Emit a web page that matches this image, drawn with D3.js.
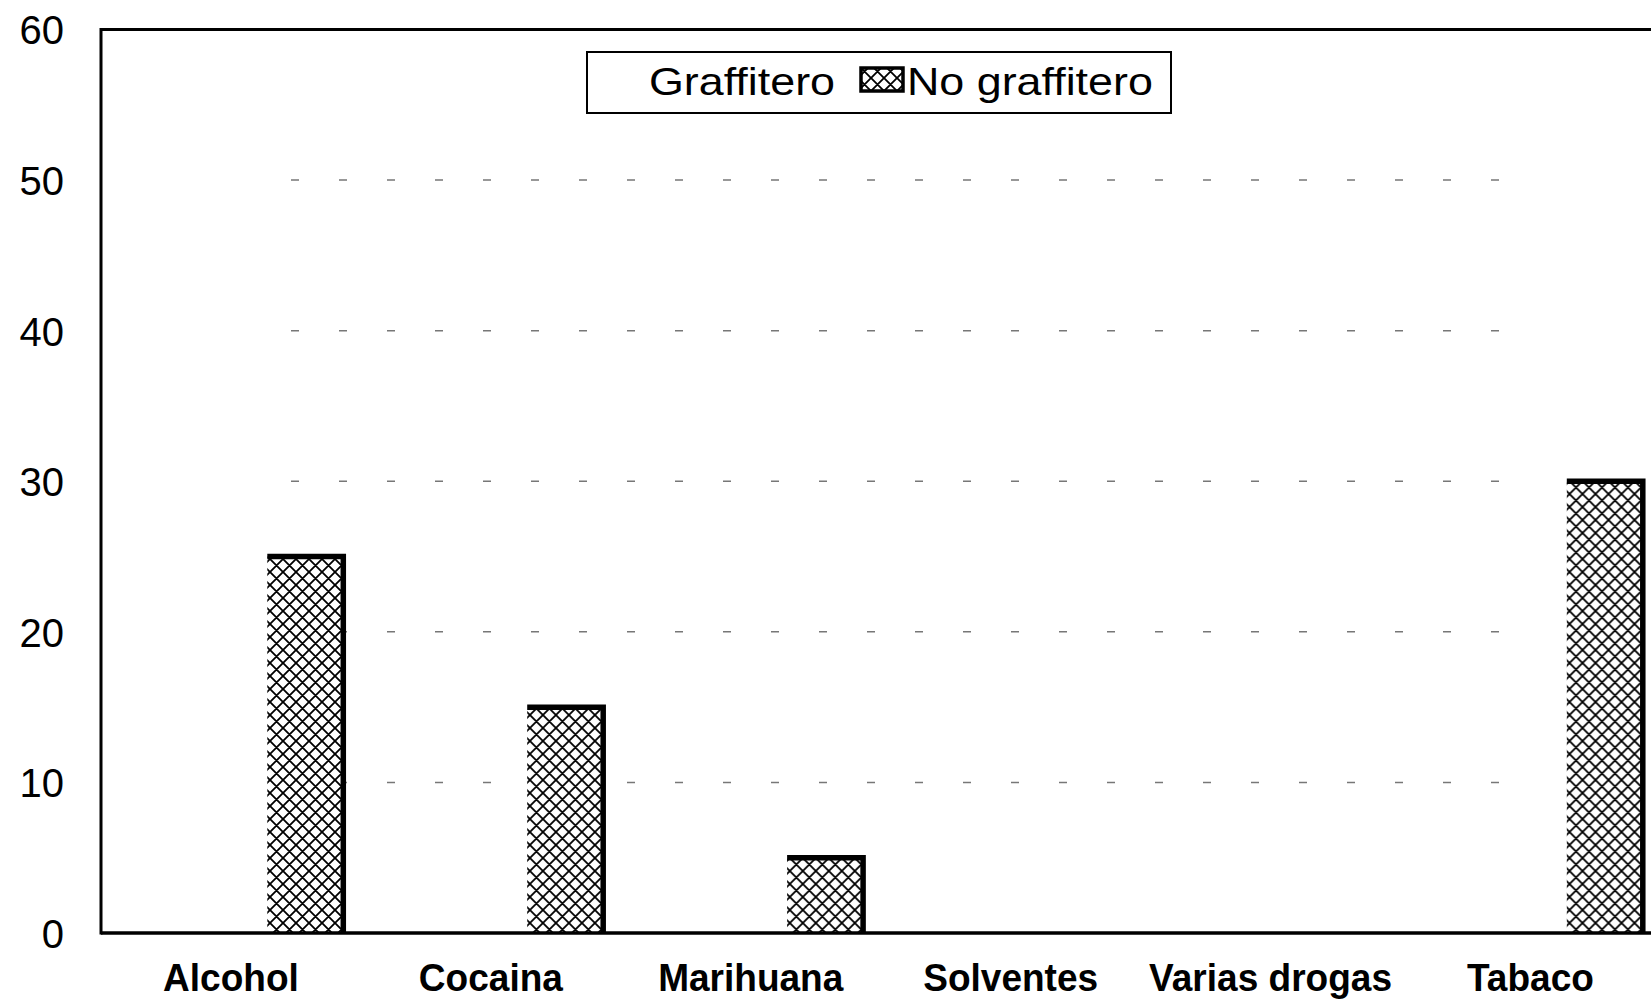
<!DOCTYPE html>
<html>
<head>
<meta charset="utf-8">
<script src="https://cdn.jsdelivr.net/npm/d3@7"></script>
<style>
  html, body { margin: 0; padding: 0; background: #fff; overflow: hidden; }
  svg { display: block; }
  text { font-family: "Liberation Sans", Arial, sans-serif; fill: #000; }
</style>
</head>
<body>
<svg id="chart" width="1651" height="1005"></svg>
<script>
// ---- data ----
const categories = ["Alcohol", "Cocaina", "Marihuana", "Solventes", "Varias drogas", "Tabaco"];
const seriesNames = ["Graffitero", "No graffitero"];
const graffitero = [0, 0, 0, 0, 0, 0];
const noGraffitero = [25, 15, 5, 0, 0, 30];
const yTicks = [0, 10, 20, 30, 40, 50, 60];

const seriesValues = { "Graffitero": graffitero, "No graffitero": noGraffitero };

// ---- layout ----
const W = 1651, H = 1005;
const plotLeft = 101, plotTop = 29.5, plotBottom = 933;
const bandW = 259.9;
const plotRight = plotLeft + bandW * categories.length;

const svg = d3.select("#chart");

// hatch pattern
const P = 13;
const defs = svg.append("defs");
const pat = defs.append("pattern")
  .attr("id", "hatch").attr("patternUnits", "userSpaceOnUse")
  .attr("width", P).attr("height", P);
pat.append("rect").attr("width", P).attr("height", P).attr("fill", "#fff");
pat.append("path")
  .attr("d", `M0,0 L${P},${P} M${P},0 L0,${P} M${-P/2},${P/2} L${P/2},${P*1.5} M${P/2},${-P/2} L${P*1.5},${P/2} M${P/2},${P*1.5} L${P*1.5},${P/2} M${-P/2},${P/2} L${P/2},${-P/2}`)
  .attr("stroke", "#000").attr("stroke-width", 1.8).attr("fill", "none");

const x0 = d3.scaleBand().domain(categories).range([plotLeft, plotRight]).padding(0);
const x1 = d3.scaleBand().domain(seriesNames).range([90.3, 242.3]).padding(0);
const y = d3.scaleLinear().domain([0, 60]).range([plotBottom, plotTop]);

// gridlines (faint, broken like the scan)
svg.append("g").selectAll("line")
  .data(yTicks.filter(t => t > 0 && t < 60))
  .join("line")
  .attr("x1", plotLeft + 190).attr("x2", plotRight - 150)
  .attr("y1", d => y(d)).attr("y2", d => y(d))
  .attr("stroke", "#777").attr("stroke-width", 1.5)
  .attr("stroke-dasharray", "8 40");

// bars
const groups = svg.append("g").selectAll("g")
  .data(categories)
  .join("g")
  .attr("transform", d => `translate(${x0(d)},0)`);

groups.selectAll("g.bar")
  .data((c, i) => seriesNames.map(s => ({ s, v: seriesValues[s][i] })))
  .join("g").attr("class", "bar")
  .each(function(d) {
    const g = d3.select(this);
    if (d.v <= 0) return;
    const xl = x1(d.s), xr = x1(d.s) + x1.bandwidth();
    const yt = y(d.v), yb = y(0);
    g.append("rect")
      .attr("x", xl).attr("y", yt)
      .attr("width", x1.bandwidth()).attr("height", yb - yt)
      .attr("fill", d.s === "No graffitero" ? "url(#hatch)" : "#fff");
    g.append("path")
      .attr("d", `M${xl},${yt} L${xr},${yt} L${xr},${yb}`)
      .attr("fill", "none").attr("stroke", "#000").attr("stroke-width", 5.5);
  });

// frame: top border, left axis, baseline
svg.append("line").attr("x1", plotLeft).attr("x2", W)
  .attr("y1", plotTop).attr("y2", plotTop)
  .attr("stroke", "#000").attr("stroke-width", 3);
svg.append("line").attr("x1", plotLeft).attr("x2", plotLeft)
  .attr("y1", plotTop - 1.5).attr("y2", plotBottom + 1.5)
  .attr("stroke", "#000").attr("stroke-width", 3);
svg.append("line").attr("x1", plotLeft).attr("x2", W)
  .attr("y1", plotBottom).attr("y2", plotBottom)
  .attr("stroke", "#000").attr("stroke-width", 3.5);

// y axis labels
const yAxis = d3.axisLeft(y).tickValues(yTicks).tickSize(0).tickPadding(0);
const yg = svg.append("g").attr("transform", `translate(64,0)`).call(yAxis);
yg.select(".domain").remove();
yg.selectAll("text")
  .attr("font-size", 40).attr("font-family", "Liberation Sans, Arial, sans-serif")
  .attr("fill", "#000").attr("dy", "0.36em").attr("text-anchor", "end");

// x axis labels
const xAxis = d3.axisBottom(x0).tickSize(0).tickPadding(0);
const xg = svg.append("g").attr("transform", `translate(0,${plotBottom})`).call(xAxis);
xg.select(".domain").remove();
xg.selectAll(".tick text")
  .attr("font-size", 39).attr("font-weight", "bold")
  .attr("font-family", "Liberation Sans, Arial, sans-serif")
  .attr("fill", "#000")
  .attr("y", 0).attr("dy", 0)
  .attr("transform", "translate(0,58) scale(0.95,1)");

// legend
const lg = svg.append("g");
lg.append("rect").attr("x", 587).attr("y", 52).attr("width", 584).attr("height", 61)
  .attr("fill", "#fff").attr("stroke", "#000").attr("stroke-width", 2);
const legendItems = [
  { name: seriesNames[0], sx: 602, tx: 649, fill: "#fff", stroke: "none" },
  { name: seriesNames[1], sx: 861, tx: 907, fill: "url(#hatch)", stroke: "#000" }
];
legendItems.forEach(it => {
  lg.append("rect").attr("x", it.sx).attr("y", 68).attr("width", 42).attr("height", 23)
    .attr("fill", it.fill).attr("stroke", it.stroke).attr("stroke-width", 3.5);
  lg.append("text").attr("transform", `translate(${it.tx},95) scale(1.18,1)`)
    .attr("font-size", 38).text(it.name);
});
</script>
</body>
</html>
